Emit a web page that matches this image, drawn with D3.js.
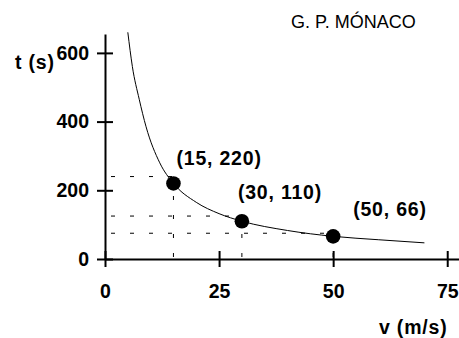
<!DOCTYPE html>
<html>
<head>
<meta charset="utf-8">
<script src="https://cdn.jsdelivr.net/npm/d3@7"></script>
<style>
	body { margin: 0; background: #fff; }
	svg { display: block; font-family: "Liberation Sans", Arial, sans-serif; }
	.axis path, .axis line { stroke: #000; stroke-width: 2; }
	.axis text { font-size: 19.5px; font-weight: bold; fill: #000; }
	.lbl { font-size: 19.5px; font-weight: bold; letter-spacing: 0.8px; }
</style>
</head>
<body>
<div id="chart"></div>
<script>
// curve (v in m/s, t in s)
const curveV = [5, 6, 7.5, 9, 12, 15, 20, 25, 30, 40, 50, 60, 70];
const curveT = [660, 560, 465, 385, 280, 220, 165, 132, 110, 83, 66, 56, 47];

// marked points
const pointV = [15, 30, 50];
const pointT = [220, 110, 66];
const pointLabels = ['(15, 220)', '(30, 110)', '(50, 66)'];

// dashed guide levels drawn in the picture
const guideT = [240, 125, 75];

const xTicks = [0, 25, 50, 75];
const yTicks = [0, 200, 400, 600];

const width = 459, height = 338;

const svg = d3.select('#chart').append('svg')
	.attr('width', width)
	.attr('height', height);

const x = d3.scaleLinear().domain([0, 77.8]).range([105, 460]);
const y = d3.scaleLinear().domain([0, 655]).range([259, 34]);

// guides
const guides = svg.append('g')
	.attr('stroke', '#000')
	.attr('stroke-width', 1)
	.attr('stroke-dasharray', '4,15');

pointV.forEach((v, i) => {
	guides.append('line')
		.attr('x1', x(0) + 6).attr('x2', x(v))
		.attr('y1', y(guideT[i])).attr('y2', y(guideT[i]));
	guides.append('line')
		.attr('x1', x(v)).attr('x2', x(v))
		.attr('y1', y(0) - 2).attr('y2', y(pointT[i]));
});

// axes
const yAxis = svg.append('g')
	.attr('class', 'axis')
	.attr('transform', `translate(${x(0)},0)`)
	.call(d3.axisLeft(y).tickValues(yTicks).tickSize(8).tickPadding(8).tickSizeOuter(0));
yAxis.selectAll('.tick line').attr('x1', 8);

const xAxis = svg.append('g')
	.attr('class', 'axis')
	.attr('transform', `translate(0,${y(0)})`)
	.call(d3.axisBottom(x).tickValues(xTicks).tickSize(8).tickSizeOuter(0));
xAxis.selectAll('.tick line').attr('y1', -8);
xAxis.selectAll('.tick text').attr('y', 39).attr('dy', 0);

// curve
const line = d3.line()
	.x((d, i) => x(curveV[i]))
	.y((d) => y(d))
	.curve(d3.curveMonotoneX);

svg.append('path')
	.datum(curveT)
	.attr('d', line)
	.attr('fill', 'none')
	.attr('stroke', '#000')
	.attr('stroke-width', 1);

// points
svg.selectAll('circle.pt')
	.data(pointV)
	.join('circle')
	.attr('class', 'pt')
	.attr('cx', (d) => x(d))
	.attr('cy', (d, i) => y(pointT[i]))
	.attr('r', 7.3)
	.attr('fill', '#000');

// label offsets from each point
const labelOffset = [[3, -18.5], [-4, -22.5], [20, -20]];
svg.selectAll('text.pl')
	.data(pointLabels)
	.join('text')
	.attr('class', 'lbl pl')
	.attr('x', (d, i) => x(pointV[i]) + labelOffset[i][0])
	.attr('y', (d, i) => y(pointT[i]) + labelOffset[i][1])
	.text((d) => d);

// axis titles
svg.append('text')
	.attr('class', 'lbl')
	.attr('x', 15).attr('y', 69)
	.text('t (s)');

svg.append('text')
	.attr('class', 'lbl')
	.attr('x', 379).attr('y', 333.5)
	.text('v (m/s)');

svg.append('text')
	.attr('x', 291).attr('y', 28)
	.attr('font-size', 18)
	.text('G. P. MÓNACO');
</script>
</body>
</html>
